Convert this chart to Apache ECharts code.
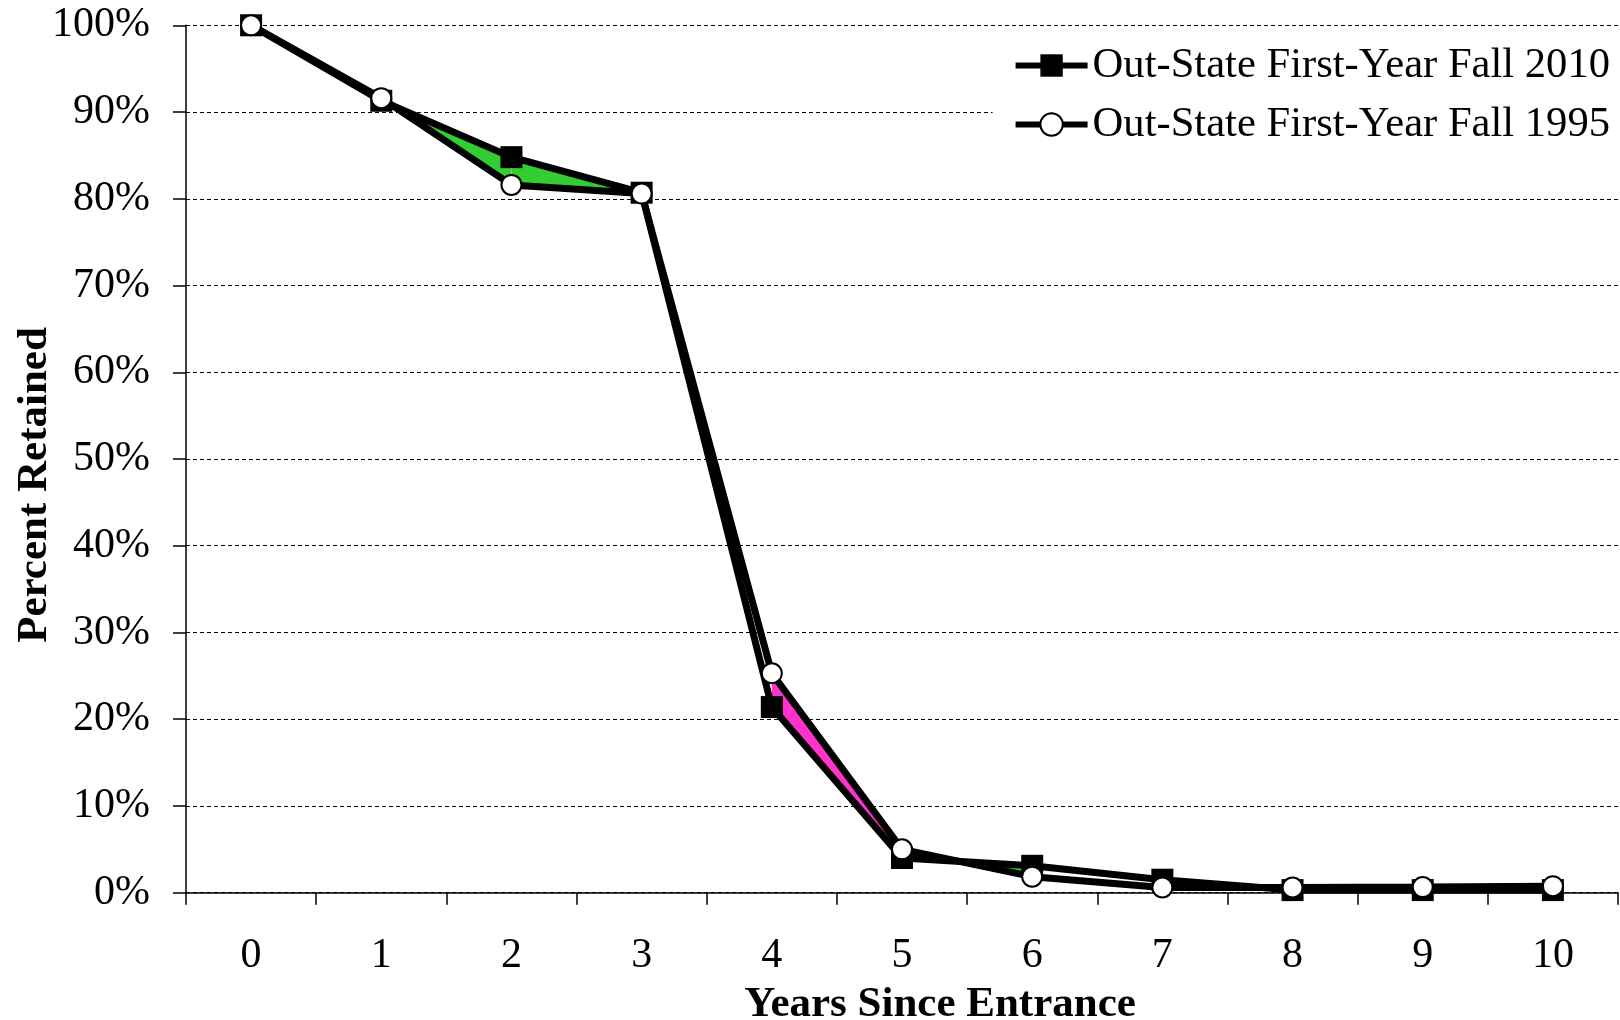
<!DOCTYPE html>
<html>
<head>
<meta charset="utf-8">
<script src="https://cdn.jsdelivr.net/npm/echarts@6/dist/echarts.min.js"></script>
<style>
  html, body { margin: 0; padding: 0; background: #fff; }
  #chart { width: 1620px; height: 1020px; }
</style>
</head>
<body>
<div id="chart"></div>
<script>
const years = ['0', '1', '2', '3', '4', '5', '6', '7', '8', '9', '10'];
const y2010 = [100, 91.3, 84.8, 80.7, 21.4, 4.0, 3.1, 1.5, 0.3, 0.3, 0.3];
const y1995 = [100, 91.6, 81.6, 80.6, 25.3, 5.0, 1.85, 0.6, 0.6, 0.65, 0.75];
const name2010 = 'Out-State First-Year Fall 2010';
const name1995 = 'Out-State First-Year Fall 1995';
// segments (start index) where the gap between the two curves is shaded
const shadedSegments = [1, 2, 4, 5];

const FONT = "'Liberation Serif', 'Times New Roman', serif";
const GAIN = '#33CC33';
const LOSS = '#FF33CC';

const chart = echarts.init(document.getElementById('chart'), null, { renderer: 'canvas' });

function renderFill(params, api) {
  const i = api.value(0);
  const a0 = api.value(1), b0 = api.value(2), a1 = api.value(3), b1 = api.value(4);
  const pA0 = api.coord([i, a0]), pB0 = api.coord([i, b0]);
  const pA1 = api.coord([i + 1, a1]), pB1 = api.coord([i + 1, b1]);
  const d0 = a0 - b0, d1 = a1 - b1;
  const children = [];
  if (d0 * d1 >= 0) {
    children.push({
      type: 'polygon',
      shape: { points: [pA0, pA1, pB1, pB0] },
      style: { fill: (d0 + d1) > 0 ? GAIN : LOSS }
    });
  } else {
    const t = d0 / (d0 - d1);
    const P = [pA0[0] + t * (pA1[0] - pA0[0]), pA0[1] + t * (pA1[1] - pA0[1])];
    children.push({ type: 'polygon', shape: { points: [pA0, P, pB0] }, style: { fill: d0 > 0 ? GAIN : LOSS } });
    children.push({ type: 'polygon', shape: { points: [P, pA1, pB1] }, style: { fill: d1 > 0 ? GAIN : LOSS } });
  }
  return { type: 'group', children: children };
}

const option = {
  animation: false,
  backgroundColor: '#fff',
  textStyle: { fontFamily: FONT, color: '#000' },
  grid: { left: 186, right: 2, top: 25.3, bottom: 127.3, containLabel: false, outerBoundsMode: 'none' },
  legend: {
    orient: 'vertical',
    right: 0,
    top: 30,
    padding: [14, 10, 8, 20],
    backgroundColor: '#fff',
    itemWidth: 72,
    itemHeight: 28,
    itemGap: 16,
    lineStyle: { width: 6, color: '#000' },
    textStyle: { fontFamily: FONT, fontSize: 42.6, color: '#000', lineHeight: 42 },
    data: [name2010, name1995]
  },
  xAxis: {
    type: 'category',
    data: years,
    boundaryGap: true,
    name: 'Years Since Entrance',
    nameLocation: 'middle',
    nameGap: 91,
    nameMoveOverlap: false,
    nameTextStyle: { fontFamily: FONT, fontSize: 43, fontWeight: 'bold', color: '#000', padding: [0, 0, 0, 76] },
    axisLine: { show: true, lineStyle: { color: '#000', width: 1.5 } },
    axisTick: { show: true, length: 12, lineStyle: { color: '#000', width: 1.5 } },
    axisLabel: { fontFamily: FONT, fontSize: 42, color: '#000', margin: 42 },
    splitLine: { show: false }
  },
  yAxis: {
    type: 'value',
    min: 0,
    max: 100,
    interval: 10,
    name: 'Percent Retained',
    nameLocation: 'middle',
    nameRotate: 90,
    nameGap: 130,
    nameMoveOverlap: false,
    nameTextStyle: { fontFamily: FONT, fontSize: 43, fontWeight: 'bold', color: '#000', padding: [0, 52, 0, 0] },
    axisLine: { show: true, lineStyle: { color: '#000', width: 1.5 } },
    axisTick: { show: true, length: 13, lineStyle: { color: '#000', width: 1.5 } },
    axisLabel: { fontFamily: FONT, fontSize: 42, color: '#000', margin: 36, formatter: '{value}%' },
    splitLine: { show: true, lineStyle: { color: '#000', width: 1, type: [4, 3] } }
  },
  series: [
    {
      type: 'custom',
      name: 'gap',
      silent: true,
      z: 1,
      renderItem: renderFill,
      data: shadedSegments.map(s => [s, y2010[s], y1995[s], y2010[s + 1], y1995[s + 1]]),
      encode: { x: 0, y: [1, 2, 3, 4] }
    },
    {
      type: 'line',
      name: name2010,
      data: y2010,
      z: 3,
      symbol: 'rect',
      symbolSize: 22,
      showAllSymbol: true,
      lineStyle: { color: '#000', width: 7 },
      itemStyle: { color: '#000', borderColor: '#000', borderWidth: 0 }
    },
    {
      type: 'line',
      name: name1995,
      data: y1995,
      z: 4,
      symbol: 'circle',
      symbolSize: 20,
      showAllSymbol: true,
      lineStyle: { color: '#000', width: 7 },
      itemStyle: { color: '#fff', borderColor: '#000', borderWidth: 2 }
    }
  ]
};

chart.setOption(option);
</script>
</body>
</html>
